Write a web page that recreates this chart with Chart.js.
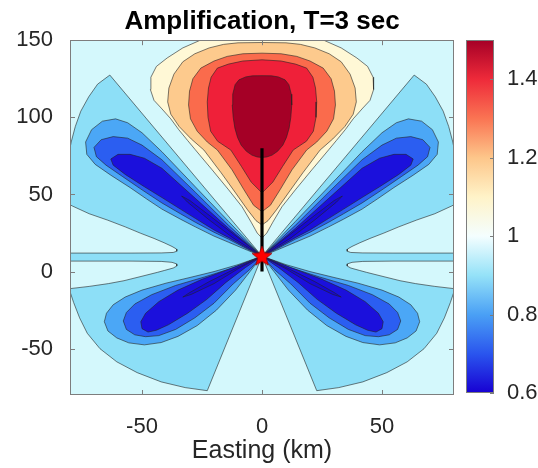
<!DOCTYPE html>
<html>
<head>
<meta charset="utf-8">
<script src="https://cdn.jsdelivr.net/npm/chart.js@4.4.1/dist/chart.umd.min.js"></script>
<style>
  html, body { margin: 0; padding: 0; background: #fff; }
  #wrap { position: relative; width: 538px; height: 468px; }
  #main { position: absolute; left: 0; top: 0; }
  #cbar { position: absolute; left: 456px; top: 0; }
</style>
</head>
<body>
<div id="wrap">
  <canvas id="main" width="524" height="468"></canvas>
  <canvas id="cbar" width="82" height="468"></canvas>
</div>
<script>
/*
   Contour outlines (Easting / Northing, km).
   Top lobe: east half from the top centre round to the bottom centre,
   mirrored for the west half. Side lobes: east side, mirrored for west.
*/
const creamEast = [[0,156],[20,156],[25.7,150],[33,145],[39.5,138.5],[44,133],[46.3,126],[46.5,118],[45,111],[42,106],[38,99],[34.7,92],[31,85],[27.8,79],[20.8,66],[13.9,53],[8.3,42],[4.5,32],[2,25],[0,21.7]];
const lightOrangeEast = [[0,148.5],[10,148.3],[16,147.3],[22,145],[28,141.2],[33,136],[36.7,128],[38.8,119],[39.3,110],[38,102],[34.5,94],[29.5,86],[24.2,78.8],[17,64],[11,51],[6,40],[2.5,33],[0,30.2]];
const orangeEast = [[0,141.6],[8,141.2],[14.5,139.5],[20,136.5],[25.5,131.9],[28.8,125],[30.2,117],[30.6,108],[29.8,99],[27,91],[22.8,84],[18.6,78.8],[12.5,66],[7.5,53],[3.5,43],[0,38.8]];
const redEast = [[0,137.3],[8,136.5],[14,134.5],[18.6,131.9],[21.2,126],[22.3,119],[22.8,110],[22.5,100],[21.4,91],[18.5,84.5],[13,78.8],[8.5,68],[4.5,58],[0,51]];
const darkRedEast = [[0,127],[4,126.9],[6.8,126.2],[9.6,124.3],[11.2,121.2],[12.2,115],[12.4,108],[12,100],[11.3,93],[10.2,87],[8.7,82],[6.5,78],[4.2,75.5],[2,74.3],[0,74]];

const lightBlueEast = [[0,10],[63.4,127.4],[68.5,121.5],[72.2,113.3],[75.5,104],[77.8,94],[79.5,84],[80.5,76],[83,74],[83,-13],[80,-13],[78.5,-20],[76,-30],[72.8,-40],[67.5,-50],[60.5,-58.5],[52,-65.5],[42,-71.5],[32,-75.2],[22.8,-77.2]];
const upperTongueEast = [[83,46],[79,42.5],[72,37.5],[64.4,33.4],[57,29],[50.5,24.8],[45,21.5],[40.8,18.7],[37.5,16.3],[35.6,14.6],[35.5,13.2],[37,12.4],[42,12.1],[55,12],[83,12]];
const lowerTongueEast = [[83,6.8],[55,6.8],[42,6.6],[37.5,6],[35.6,5],[35.5,3.6],[37,2.3],[40.5,0.8],[43.6,-0.5],[50,-3],[57.5,-5.9],[64,-7.8],[72,-9.6],[83,-11.6]];

const medBlueNE = [[0,10],[13.9,32.5],[27.8,55],[41.7,77.7],[50,90],[56,96.5],[61,99],[66.5,97.5],[71,92],[73.5,84],[73,76],[69.5,69.5],[63,62.5],[55,54.5],[48,47],[41.7,40.5],[34,34],[27.8,29],[20,23],[13.9,19],[6,13.8]];
const blueNE = [[0,10],[13.9,30],[27.8,51.5],[41.7,72.5],[50,82],[56,86.5],[62,87.5],[67,85.5],[70,80.5],[69,74.5],[65,69],[58,61.5],[50,53],[41.7,44.5],[34,37.5],[27.8,32],[20,25.5],[13.9,21],[6,14.5]];
const darkBlueNE = [[0,10],[13.9,28],[27.8,47.5],[41.7,67],[49,73.5],[55,76],[60,76],[63,73],[62,69],[57,63],[49,55],[41.7,48],[34,40.5],[27.8,34.5],[20,27],[13.9,22],[6,15]];
const deepestNE = [[0,10],[12,24.5],[22,36.5],[30,46],[33.5,49],[31,45],[22,33.5],[12,21.8]];

const medBlueSE = [[0,10],[10,4.5],[20,0],[30,-3.8],[40,-7.5],[50,-12],[57,-16.5],[62,-21.5],[64.8,-27],[65.7,-32.5],[64.2,-38.5],[60.5,-43],[55.5,-46.2],[49,-47.5],[42,-46],[35,-42],[27,-35],[19,-25],[11,-12],[5,0]];
const blueSE = [[0,10],[12,2.5],[24,-3.5],[36,-9],[46,-15],[53,-21],[56.5,-26.5],[57.8,-32],[56.5,-37.5],[53,-41],[48.5,-42.2],[43,-41.5],[36,-37.5],[28,-30],[20,-20.5],[12,-8],[5,1.5]];
const darkBlueSE = [[0,10],[13,2],[25,-5],[35,-12],[43,-19.5],[48.5,-27],[50.5,-32.5],[50,-37],[47.5,-39.2],[44,-38],[39,-34.5],[31,-27],[23,-18],[15,-7],[7,2.5]];
const deepestSE = [[0,10],[12,1.2],[22,-6.5],[30,-13.5],[33,-16.5],[29.5,-14.8],[20,-7.8],[10,1.8]];

const rupture = [[0,0],[0,80]];
const epicentre = [[0,10]];

const xTicks = [-50, 0, 50];
const yTicks = [-50, 0, 50, 100, 150];
const xLimits = [-80, 80];
const yLimits = [-80, 150];

const cbRange = [0.6, 1.5];
const cbTicks = [0.6, 0.8, 1, 1.2, 1.4];
const cbLabels = ['0.6', '0.8', '1', '1.2', '1.4'];
const cbLevels = [0.6, 0.7, 0.8, 0.9, 1.0, 1.1, 1.2, 1.3, 1.4, 1.5];
const cbColours = ['#1700d2', '#2a55ee', '#4aa0f5', '#95e2f8', '#f4feff', '#fff3c8', '#fdc68a', '#fa7453', '#ee2a3a', '#a50026'];

const FONT = "'Liberation Sans', Arial, Helvetica, sans-serif";
const INK = '#262626';
const LINE = 'rgba(35,35,35,0.75)';

const colours = {
    background: '#d4f8fc',
    lightBlue: '#8ddff7',
    medBlue: '#4ba7f6',
    blue: '#2b5ef1',
    darkBlue: '#1b10dc',
    deepest: '#1608d2',
    cream: '#fff8d6',
    lightOrange: '#fdca8d',
    orange: '#fa6b4c',
    red: '#ef2039',
    darkRed: '#a50026'
};

const west = pts => pts.map(p => [-p[0], p[1]]);
const wholeLobe = east => east.concat(west(east).reverse());

// painting order, bottom first
const layers = [
    [lightBlueEast, colours.lightBlue], [west(lightBlueEast), colours.lightBlue],
    [upperTongueEast, colours.background], [west(upperTongueEast), colours.background],
    [lowerTongueEast, colours.background], [west(lowerTongueEast), colours.background],
    [medBlueNE, colours.medBlue], [west(medBlueNE), colours.medBlue],
    [medBlueSE, colours.medBlue], [west(medBlueSE), colours.medBlue],
    [blueNE, colours.blue], [west(blueNE), colours.blue],
    [blueSE, colours.blue], [west(blueSE), colours.blue],
    [darkBlueNE, colours.darkBlue], [west(darkBlueNE), colours.darkBlue],
    [darkBlueSE, colours.darkBlue], [west(darkBlueSE), colours.darkBlue],
    [deepestNE, colours.deepest], [west(deepestNE), colours.deepest],
    [deepestSE, colours.deepest], [west(deepestSE), colours.deepest],
    [wholeLobe(creamEast), colours.cream],
    [wholeLobe(lightOrangeEast), colours.lightOrange],
    [wholeLobe(orangeEast), colours.orange],
    [wholeLobe(redEast), colours.red],
    [wholeLobe(darkRedEast), colours.darkRed]
];

const datasets = layers.map(([pts, col], i) => ({
    type: 'line',
    data: pts.concat([pts[0]]),
    showLine: true,
    fill: 'shape',
    backgroundColor: col,
    borderColor: LINE,
    borderWidth: 0.8,
    borderJoinStyle: 'round',
    pointRadius: 0,
    tension: 0,
    order: 1000 - i
}));

function starMark() {
    const c = document.createElement('canvas');
    c.width = 24; c.height = 24;
    const g = c.getContext('2d');
    g.beginPath();
    for (let i = 0; i < 10; i++) {
        const r = i % 2 ? 4.5 : 10.5;
        const a = -Math.PI / 2 + i * Math.PI / 5;
        g.lineTo(12 + r * Math.cos(a), 12.5 + r * Math.sin(a));
    }
    g.closePath();
    g.fillStyle = '#ff0000';
    g.fill();
    g.strokeStyle = '#a00000';
    g.lineWidth = 0.8;
    g.stroke();
    return c;
}

datasets.push({
    type: 'line', data: rupture, showLine: true, fill: false,
    borderColor: '#000', borderWidth: 3.2, pointRadius: 0, order: 2
});
datasets.push({
    type: 'scatter', data: epicentre, showLine: false,
    pointStyle: starMark(), pointRadius: 10, order: 1
});

const plotBackground = {
    id: 'plotBackground',
    beforeDatasetsDraw(chart) {
        const { ctx, chartArea: a } = chart;
        ctx.save();
        ctx.fillStyle = colours.background;
        ctx.fillRect(a.left, a.top, a.right - a.left, a.bottom - a.top);
        ctx.restore();
    }
};

const boxFrame = {
    id: 'boxFrame',
    afterDatasetsDraw(chart) {
        const { ctx, chartArea: a, scales: { x, y } } = chart;
        ctx.save();
        ctx.strokeStyle = '#7d7d7d';
        ctx.lineWidth = 1;
        ctx.beginPath();
        xTicks.forEach(v => {
            const px = Math.round(x.getPixelForValue(v)) + 0.5;
            ctx.moveTo(px, a.bottom); ctx.lineTo(px, a.bottom - 5);
            ctx.moveTo(px, a.top); ctx.lineTo(px, a.top + 5);
        });
        yTicks.forEach(v => {
            const py = Math.round(y.getPixelForValue(v)) + 0.5;
            ctx.moveTo(a.left, py); ctx.lineTo(a.left + 5, py);
            ctx.moveTo(a.right, py); ctx.lineTo(a.right - 5, py);
        });
        ctx.stroke();
        ctx.strokeRect(Math.round(a.left) + 0.5, Math.round(a.top) + 0.5,
            Math.round(a.right - a.left) - 1, Math.round(a.bottom - a.top) - 1);
        ctx.restore();
    }
};

new Chart(document.getElementById('main'), {
    type: 'scatter',
    data: { datasets },
    plugins: [plotBackground, boxFrame],
    options: {
        responsive: false,
        animation: false,
        events: [],
        layout: { padding: 0 },
        plugins: {
            legend: { display: false },
            tooltip: { enabled: false },
            title: {
                display: true,
                text: 'Amplification, T=3 sec',
                color: '#000',
                font: { family: FONT, size: 26, weight: 'bold' },
                padding: { top: 6, bottom: 3 }
            }
        },
        scales: {
            x: {
                type: 'linear',
                min: xLimits[0], max: xLimits[1],
                afterBuildTicks: s => { s.ticks = xTicks.map(v => ({ value: v })); },
                afterFit: s => { s.height = 73; },
                grid: { display: false },
                border: { display: false },
                ticks: { color: INK, font: { family: FONT, size: 22 }, padding: 11, maxRotation: 0, callback: v => String(v) },
                title: { display: true, text: 'Easting (km)', color: INK, font: { family: FONT, size: 25 }, padding: { top: 0, bottom: 2 } }
            },
            y: {
                type: 'linear',
                min: yLimits[0], max: yLimits[1],
                afterBuildTicks: s => { s.ticks = yTicks.map(v => ({ value: v })); },
                afterFit: s => { s.width = 70; },
                grid: { display: false },
                border: { display: false },
                ticks: { color: INK, font: { family: FONT, size: 22 }, padding: 9, callback: v => String(v) }
            },
            yRight: {
                type: 'linear',
                position: 'right',
                min: 0, max: 1,
                afterFit: s => { s.width = 70; },
                grid: { display: false },
                border: { display: false },
                ticks: { display: false }
            }
        }
    }
});

/* ---------- colour bar ---------- */
const cbFrame = {
    id: 'cbFrame',
    afterDatasetsDraw(chart) {
        const { ctx, chartArea: a, scales: { y } } = chart;
        ctx.save();
        ctx.strokeStyle = '#7d7d7d';
        ctx.lineWidth = 1;
        ctx.beginPath();
        cbTicks.forEach(v => {
            const py = Math.round(y.getPixelForValue(v)) + 0.5;
            ctx.moveTo(a.right, py); ctx.lineTo(a.right - 4, py);
        });
        ctx.stroke();
        ctx.strokeRect(Math.round(a.left) + 0.5, Math.round(a.top) + 0.5,
            Math.round(a.right - a.left) - 1, Math.round(a.bottom - a.top) - 1);
        ctx.restore();
    }
};

new Chart(document.getElementById('cbar'), {
    type: 'bar',
    data: {
        labels: ['amplification'],
        datasets: [{
            data: [cbRange],
            barPercentage: 1,
            categoryPercentage: 1,
            borderWidth: 0,
            backgroundColor(c) {
                const chart = c.chart;
                if (!chart.chartArea) return colours.background;
                const ys = chart.scales.y;
                const lo = ys.getPixelForValue(cbRange[0]);
                const hi = ys.getPixelForValue(cbRange[1]);
                const g = chart.ctx.createLinearGradient(0, lo, 0, hi);
                cbLevels.forEach((v, i) => g.addColorStop((v - cbRange[0]) / (cbRange[1] - cbRange[0]), cbColours[i]));
                return g;
            }
        }]
    },
    plugins: [cbFrame],
    options: {
        responsive: false,
        animation: false,
        events: [],
        layout: { padding: { left: 10, top: 40, bottom: 75, right: 0 } },
        plugins: { legend: { display: false }, tooltip: { enabled: false } },
        scales: {
            x: { display: false },
            y: {
                position: 'right',
                min: cbRange[0], max: cbRange[1],
                afterBuildTicks: s => { s.ticks = cbTicks.map(v => ({ value: v })); },
                afterFit: s => { s.width = 44; },
                grid: { display: false },
                border: { display: false },
                ticks: { color: INK, font: { family: FONT, size: 22 }, padding: 5, callback: (v, i) => cbLabels[i] }
            }
        }
    }
});
</script>
</body>
</html>
